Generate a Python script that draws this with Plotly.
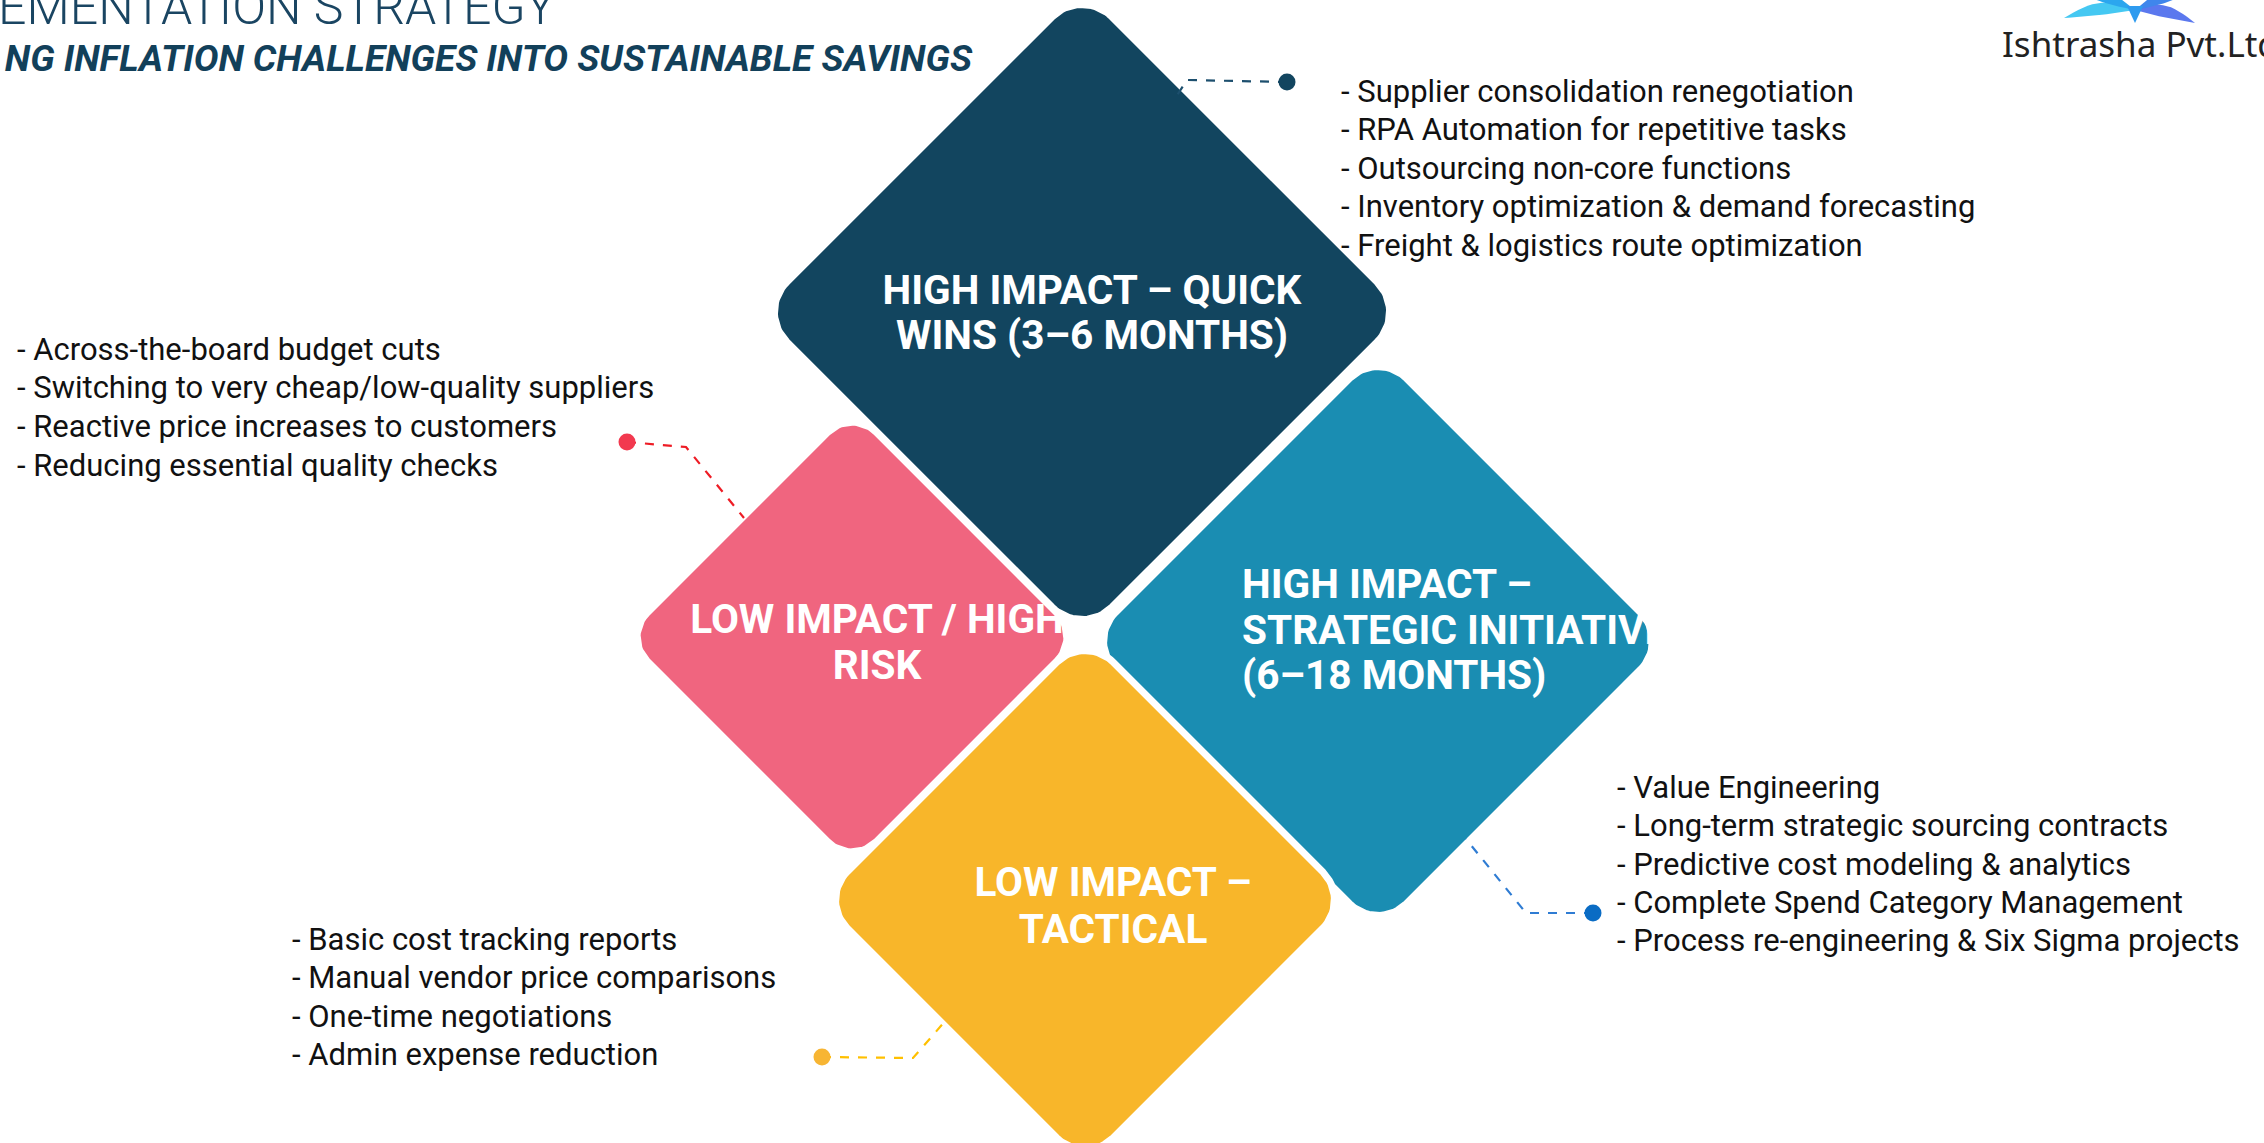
import numpy as np
import plotly.graph_objects as go

W, H = 2264, 1143

# ------------------------------------------------------------------ data
TITLE = "EMENTATION STRATEGY"
SUBTITLE = "NG INFLATION CHALLENGES INTO SUSTAINABLE SAVINGS"
COMPANY = "Ishtrasha Pvt.Ltd"

LABEL_QUICK_WINS = ["HIGH IMPACT – QUICK", "WINS (3–6 MONTHS)"]
LABEL_STRATEGIC = ["HIGH IMPACT –", "STRATEGIC INITIATIVE", "(6–18 MONTHS)"]
LABEL_HIGH_RISK = ["LOW IMPACT / HIGH", "RISK"]
LABEL_TACTICAL = ["LOW IMPACT –", "TACTICAL"]

ITEMS_QUICK_WINS = [
    "- Supplier consolidation renegotiation",
    "- RPA Automation for repetitive tasks",
    "- Outsourcing non-core functions",
    "- Inventory optimization & demand forecasting",
    "- Freight & logistics route optimization",
]
ITEMS_STRATEGIC = [
    "- Value Engineering",
    "- Long-term strategic sourcing contracts",
    "- Predictive cost modeling & analytics",
    "- Complete Spend Category Management",
    "- Process re-engineering & Six Sigma projects",
]
ITEMS_HIGH_RISK = [
    "- Across-the-board budget cuts",
    "- Switching to very cheap/low-quality suppliers",
    "- Reactive price increases to customers",
    "- Reducing essential quality checks",
]
ITEMS_TACTICAL = [
    "- Basic cost tracking reports",
    "- Manual vendor price comparisons",
    "- One-time negotiations",
    "- Admin expense reduction",
]

# ------------------------------------------------------------------ layout / style
STYLE = {
    "quick": dict(c=(1082, 312), D=325, r=42, color="#12455F",
                  label=LABEL_QUICK_WINS, lx=1092, ly=294, lstep=45, align="center",
                  items=ITEMS_QUICK_WINS, ix=1341, iy=94, istep=38.5,
                  conn=[(1287, 82), (1187, 80), (1176, 97)],
                  dot="#12455F", line="#1D4F6E"),
    "risk": dict(c=(852, 637), D=229, r=34, color="#F0657F",
                 label=LABEL_HIGH_RISK, lx=877, ly=623, lstep=46, align="center",
                 items=ITEMS_HIGH_RISK, ix=17, iy=352, istep=38.7,
                 conn=[(627, 442), (686, 447), (744, 518)],
                 dot="#F2394F", line="#EE1C25",
                 clip=[(1064, 596), (1095, 596), (1095, 646), (1064, 646)]),
    "strategic": dict(c=(1378, 641), D=291, r=40, color="#1A8DB2",
                      label=LABEL_STRATEGIC, lx=1242, ly=588, lstep=45.5, align="left",
                      items=ITEMS_STRATEGIC, ix=1617, iy=790, istep=38.4,
                      conn=[(1593, 913), (1526, 913), (1466, 839)],
                      dot="#0A6CC4", line="#2F7CD3",
                      clip=[(1650, 560), (1760, 560), (1760, 700), (1650, 700)]),
    "tactical": dict(c=(1085, 900), D=266, r=40, color="#F8B62A",
                     label=LABEL_TACTICAL, lx=1113, ly=886, lstep=47, align="center",
                     items=ITEMS_TACTICAL, ix=292, iy=942, istep=38.5,
                     conn=[(822, 1057), (913, 1058), (947, 1019)],
                     dot="#F7B533", line="#FFC000"),
}
ORDER = ["risk", "quick", "strategic", "tactical"]

LABEL_FONT = dict(family="Roboto, Inter, sans-serif", size=40.6, color="white", weight=700)
ITEM_FONT = dict(family="Roboto, 'Noto Sans', sans-serif", size=31, color="#111111")


def rounded_diamond(cx, cy, D, r, n=18):
    V = [np.array(p, dtype=float) for p in [(cx, cy - D), (cx + D, cy), (cx, cy + D), (cx - D, cy)]]
    xs, ys = [], []
    for i in range(4):
        P, Vi, N = V[i - 1], V[i], V[(i + 1) % 4]
        u1 = (P - Vi) / np.linalg.norm(P - Vi)
        u2 = (N - Vi) / np.linalg.norm(N - Vi)
        bis = (u1 + u2) / np.linalg.norm(u1 + u2)
        C = Vi + bis * r * np.sqrt(2)
        T1, T2 = Vi + u1 * r, Vi + u2 * r
        a1 = np.arctan2(T1[1] - C[1], T1[0] - C[0])
        a2 = np.arctan2(T2[1] - C[1], T2[0] - C[0])
        d = (a2 - a1 + np.pi) % (2 * np.pi) - np.pi
        for t in np.linspace(0, 1, n):
            a = a1 + d * t
            xs.append(C[0] + r * np.cos(a))
            ys.append(C[1] + r * np.sin(a))
    xs.append(xs[0]); ys.append(ys[0])
    return xs, ys


def poly(points, color):
    xs = [p[0] for p in points] + [points[0][0]]
    ys = [p[1] for p in points] + [points[0][1]]
    return go.Scatter(x=xs, y=ys, mode="lines", fill="toself", fillcolor=color,
                      line=dict(width=0, color=color), hoverinfo="skip")


def text_trace(xs, ys, texts, pos, font):
    return go.Scatter(x=xs, y=ys, text=texts, mode="text", textposition=pos,
                      textfont=font, hoverinfo="skip")


fig = go.Figure()

# diamonds + labels (order matters for clipping)
for key in ORDER:
    s = STYLE[key]
    xs, ys = rounded_diamond(s["c"][0], s["c"][1], s["D"], s["r"])
    fig.add_trace(go.Scatter(x=xs, y=ys, mode="lines", fill="toself", fillcolor=s["color"],
                             line=dict(width=7, color="white"), hoverinfo="skip"))
    n = len(s["label"])
    ly = [s["ly"] + i * s["lstep"] for i in range(n)]
    pos = "middle center" if s["align"] == "center" else "middle right"
    fig.add_trace(text_trace([s["lx"]] * n, ly, s["label"], pos, LABEL_FONT))
    if "clip" in s:
        fig.add_trace(poly(s["clip"], "white"))

# connectors, dots and bullet lists
for key in ORDER:
    s = STYLE[key]
    cx = [p[0] for p in s["conn"]]
    cy = [p[1] for p in s["conn"]]
    fig.add_trace(go.Scatter(x=cx, y=cy, mode="lines",
                             line=dict(color=s["line"], width=2.2, dash="dash"), hoverinfo="skip"))
    fig.add_trace(go.Scatter(x=[cx[0]], y=[cy[0]], mode="markers",
                             marker=dict(size=17, color=s["dot"], line=dict(width=0)), hoverinfo="skip"))
    n = len(s["items"])
    iy = [s["iy"] + i * s["istep"] for i in range(n)]
    fig.add_trace(text_trace([s["ix"]] * n, iy, s["items"], "middle right", ITEM_FONT))

# title / subtitle (clipped by the page edge like the original)
fig.add_trace(text_trace([-2], [11], [TITLE], "middle right",
                         dict(family="Roboto, sans-serif", size=50, color="#1A4562", weight=300)))
fig.add_trace(text_trace([972], [62], [SUBTITLE], "middle left",
                         dict(family="Roboto, sans-serif", size=37, color="#12405A",
                              weight=700, style="italic")))

# company logo (mark clipped at the top, name clipped at right)
LOGO_C = (2135, 10)
def wing(tipx, tipy, bulge, width, npts=16):
    t = np.linspace(0, 1, npts)
    x0, y0 = LOGO_C
    bx = x0 + (tipx - x0) * t
    by = y0 + (tipy - y0) * t
    upper = by - bulge * np.sin(np.pi * t) - width * np.sin(np.pi * t)
    lower = by - bulge * np.sin(np.pi * t) + width * np.sin(np.pi * t)
    return list(zip(np.r_[bx, bx[::-1]], np.r_[upper, lower[::-1]]))

fig.add_trace(poly(wing(2064, 18, 5, 6), "#45C8F2"))
fig.add_trace(poly(wing(2076, -8, 4, 6), "#2BA6EE"))
fig.add_trace(poly(wing(2195, 23, 5, 6), "#5B78EE"))
fig.add_trace(poly(wing(2188, -6, 4, 6), "#3F86EC"))
fig.add_trace(poly([(2127, 6), (2143, 6), (2135, 23)], "#2E9BEF"))
fig.add_trace(text_trace([2002], [48], [COMPANY], "middle right",
                         dict(family="'Noto Sans', 'Open Sans', sans-serif", size=35, color="#222222")))

fig.update_layout(
    width=W, height=H, autosize=False,
    margin=dict(l=0, r=0, t=0, b=0, pad=0),
    paper_bgcolor="white", plot_bgcolor="white", showlegend=False,
    xaxis=dict(range=[0, W], visible=False, fixedrange=True),
    yaxis=dict(range=[H, 0], visible=False, fixedrange=True),
)

fig.write_html("out.html", config={"displayModeBar": False},
               post_script="document.body.style.margin='0';document.body.style.overflow='hidden';")
